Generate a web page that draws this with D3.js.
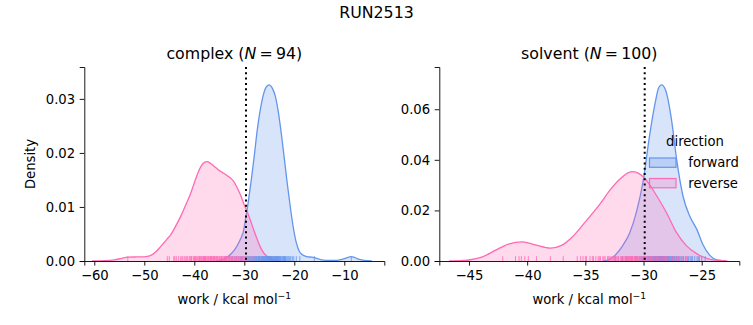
<!DOCTYPE html>
<html><head><meta charset="utf-8">
<script src="https://cdn.jsdelivr.net/npm/d3@7"></script>
<style>
html,body{margin:0;padding:0;background:#fff;}
text{font-family:"DejaVu Sans",sans-serif;fill:#000;}
</style></head>
<body><svg id="chart" width="753" height="325"></svg>
<script>
// ---------------- data ----------------
const suptitle = "RUN2513";
const directions = ["forward", "reverse"];
const colors = ["#6495ED", "#FF69B4"];

// complex phase KDE curves: x (work) and density
const complexForwardX = [-35.5,-34.2,-33.0,-32.0,-31.5,-31.0,-30.5,-30.2,-29.8,-29.2,-28.6,-28.0,-27.4,-26.8,-26.2,-25.6,-25.0,-24.4,-23.8,-23.2,-22.6,-22.0,-21.4,-20.8,-20.2,-19.6,-19.0,-18.3,-17.5,-16.5,-15.5,-14.5,-13.0,-11.5,-10.5,-9.5,-8.6,-7.8,-7.0,-6.0,-4.5];
const complexForwardY = [0,0.0003,0.0010,0.0020,0.0027,0.0036,0.0046,0.0054,0.0075,0.0110,0.0150,0.0195,0.0243,0.0280,0.0307,0.0322,0.0326,0.0320,0.0305,0.0276,0.0236,0.0190,0.0143,0.0100,0.0062,0.0034,0.0018,0.0011,0.0008,0.0007,0.0005,0.0002,0.0001,0.0001,0.0003,0.0006,0.0008,0.0006,0.0003,0.0001,0];
const complexReverseX = [-60.5,-58.0,-56.0,-54.5,-53.3,-51.5,-50.0,-48.8,-47.8,-46.7,-45.5,-44.7,-43.7,-42.7,-41.7,-40.7,-39.8,-39.1,-38.3,-37.5,-36.8,-36.0,-35.2,-34.4,-33.6,-32.7,-32.1,-31.4,-30.7,-30.1,-29.5,-28.8,-28.2,-27.5,-26.9,-26.2,-25.2,-24.2,-23.0];
const complexReverseY = [0,0.00005,0.0002,0.0005,0.0007,0.00075,0.00078,0.0010,0.0016,0.0027,0.0040,0.0049,0.0065,0.0083,0.0104,0.0126,0.0150,0.0167,0.0180,0.0184,0.0181,0.0175,0.0169,0.0164,0.0159,0.0153,0.0147,0.0135,0.0121,0.0106,0.0093,0.0076,0.0060,0.0042,0.0028,0.0016,0.0007,0.0002,0];

// solvent phase KDE curves
const solventForwardX = [-33.5,-32.9,-32.4,-31.8,-31.2,-30.6,-30.0,-29.5,-29.0,-28.7,-28.45,-28.1,-27.6,-27.15,-26.6,-26.0,-25.4,-24.9,-24.3,-23.7,-23.0];
const solventForwardY = [0,0.0007,0.0025,0.0060,0.0110,0.0195,0.0325,0.0490,0.0625,0.0685,0.0696,0.0675,0.0560,0.0400,0.0255,0.0175,0.0123,0.0065,0.0022,0.0004,0];
const solventReverseX = [-46.7,-45.5,-45.0,-43.9,-42.7,-41.6,-40.4,-39.3,-38.0,-37.0,-36.1,-35.0,-33.8,-32.8,-32.0,-31.0,-30.0,-28.9,-28.0,-27.2,-26.3,-25.4,-24.5,-23.5,-22.8];
const solventReverseY = [0,0.0002,0.0004,0.0015,0.0043,0.0067,0.0076,0.0064,0.0051,0.0063,0.0096,0.0155,0.0222,0.0285,0.0325,0.0353,0.0332,0.0260,0.0189,0.0115,0.0060,0.0028,0.0009,0.0002,0];

// rug samples (work values)
const complexForwardRug = [-33.8,-33.0,-32.4,-31.9,-31.5,-31.1,-30.8,-30.4,-30.1,-29.8,-29.5,-29.3,-29.0,-28.8,-28.6,-28.4,-28.2,-28.0,-27.8,-27.7,-27.5,-27.3,-27.2,-27.0,-26.9,-26.7,-26.6,-26.4,-26.3,-26.1,-26.0,-25.9,-25.7,-25.6,-25.5,-25.4,-25.2,-25.1,-25.0,-24.9,-24.8,-24.6,-24.5,-24.4,-24.3,-24.1,-24.0,-23.9,-23.8,-23.6,-23.5,-23.4,-23.2,-23.1,-23.0,-22.8,-22.7,-22.5,-22.4,-22.2,-22.0,-21.9,-21.7,-21.5,-21.3,-21.1,-20.9,-20.7,-20.4,-20.1,-19.6,-18.9,-16.0,-8.6,-26.5,-25.3,-24.7,-23.7,-22.9,-27.1,-28.1,-25.8,-24.2,-23.3,-22.1,-26.2,-24.95,-25.15,-27.6,-21.8,-29.1,-30.6,-23.55,-24.55];
const complexReverseRug = [-53.3,-45.4,-45.0,-44.1,-43.6,-43.2,-42.8,-42.5,-42.0,-41.7,-41.3,-41.0,-40.8,-40.5,-40.2,-40.0,-39.8,-39.6,-39.4,-39.2,-39.0,-38.8,-38.6,-38.5,-38.3,-38.1,-38.0,-37.8,-37.7,-37.5,-37.4,-37.2,-37.1,-36.9,-36.8,-36.6,-36.5,-36.3,-36.2,-36.0,-35.9,-35.7,-35.5,-35.4,-35.2,-35.0,-34.9,-34.7,-34.5,-34.4,-34.2,-34.0,-33.9,-33.7,-33.5,-33.4,-33.2,-33.0,-32.9,-32.7,-32.5,-32.3,-32.1,-31.9,-31.7,-31.5,-31.3,-31.1,-30.9,-30.7,-30.5,-30.3,-30.0,-29.7,-29.4,-29.0,-28.6,-28.2,-27.8,-39.9,-38.9,-37.9,-36.7,-35.6,-34.6,-33.6,-32.6,-31.6,-40.6,-41.5,-42.3,-43.9,-38.2,-36.1];
const solventForwardRug = [-32.4,-31.8,-31.4,-31.0,-30.7,-30.5,-30.3,-30.1,-29.9,-29.8,-29.7,-29.6,-29.5,-29.4,-29.3,-29.25,-29.2,-29.15,-29.1,-29.05,-29.0,-28.95,-28.9,-28.85,-28.8,-28.75,-28.7,-28.65,-28.6,-28.55,-28.5,-28.45,-28.4,-28.35,-28.3,-28.25,-28.2,-28.15,-28.1,-28.05,-28.0,-27.95,-27.9,-27.85,-27.8,-27.75,-27.7,-27.6,-27.5,-27.4,-27.3,-27.2,-27.1,-27.0,-26.9,-26.8,-26.7,-26.6,-26.4,-26.2,-26.0,-25.8,-25.6,-25.4,-25.2,-25.0,-24.7,-28.42,-28.52,-28.62,-28.32,-28.72,-28.82,-28.22,-28.12,-29.02,-28.92,-27.62,-27.52,-29.35,-29.45,-29.55,-27.15,-27.35,-26.55,-26.15,-25.9,-25.3,-30.0,-30.2,-28.48,-28.38,-28.58,-28.28,-28.68,-28.78,-29.12,-27.82];
const solventReverseRug = [-42.1,-41.0,-40.7,-40.5,-40.2,-39.9,-39.2,-38.0,-36.9,-35.7,-35.4,-35.2,-34.9,-34.6,-34.4,-34.1,-33.9,-33.7,-33.5,-33.3,-33.1,-32.9,-32.8,-32.6,-32.5,-32.3,-32.2,-32.0,-31.9,-31.8,-31.7,-31.6,-31.5,-31.4,-31.3,-31.2,-31.1,-31.0,-30.9,-30.8,-30.7,-30.6,-30.5,-30.4,-30.3,-30.2,-30.1,-30.0,-29.9,-29.8,-29.7,-29.6,-29.5,-29.4,-29.3,-29.2,-29.0,-28.9,-28.8,-28.6,-28.5,-28.3,-28.2,-28.0,-27.8,-27.6,-27.4,-27.2,-27.0,-26.7,-26.3,-31.05,-31.25,-31.45,-30.95,-30.75,-30.55,-32.15,-32.45,-32.7,-33.0,-33.4,-29.85,-29.65,-29.45,-29.1,-28.7,-28.4,-31.85,-31.55,-30.35,-30.15,-34.3,-33.8,-35.0,-28.1,-27.5,-30.65,-31.15,-29.95];

// reference (dotted) lines
const complexRefLine = -29.66;
const solventRefLine = -29.9;

// axes ranges and ticks
const complexXDomain = [-62, -2];
const complexYDomain = [0, 0.0359];
const complexXTicks = [-60,-50,-40,-30,-20,-10];
const complexYTicks = [0,0.01,0.02,0.03];
const solventXDomain = [-47.55, -21.77];
const solventYDomain = [0, 0.0767];
const solventXTicks = [-45,-40,-35,-30,-25];
const solventYTicks = [0,0.02,0.04,0.06];

const panels = [
  {name:"complex", n:94, left:84.3, xDomain:complexXDomain, yDomain:complexYDomain, xTicks:complexXTicks, yTicks:complexYTicks,
   curves:[[complexForwardX,complexForwardY],[complexReverseX,complexReverseY]], rugs:[complexForwardRug,complexReverseRug], ref:complexRefLine, ylabel:true, legend:false},
  {name:"solvent", n:100, left:439.3, xDomain:solventXDomain, yDomain:solventYDomain, xTicks:solventXTicks, yTicks:solventYTicks,
   curves:[[solventForwardX,solventForwardY],[solventReverseX,solventReverseY]], rugs:[solventForwardRug,solventReverseRug], ref:solventRefLine, ylabel:false, legend:true}
];

// ---------------- drawing ----------------
const svg = d3.select("#chart");
const axTop = 67, axBottom = 261, pw = 300;
const fsSmall = 13.2, fsLarge = 15.8, tickLen = 4.6, tickPad = 4.6;
const minus = s => s.replace(/-/g, "\u2212");

svg.append("text").attr("x", 376.5).attr("y", 18).attr("text-anchor","middle")
  .style("font-size", fsLarge+"px").text(suptitle);

panels.forEach(p => {
  const g = svg.append("g");
  const x = d3.scaleLinear().domain(p.xDomain).range([p.left, p.left+pw]);
  const y = d3.scaleLinear().domain(p.yDomain).range([axBottom, axTop]);

  // curves
  p.curves.forEach((c, i) => {
    const pts = c[0].map((v, k) => [v, c[1][k]]);
    const area = d3.area().x(d => x(d[0])).y0(y(0)).y1(d => y(d[1])).curve(d3.curveMonotoneX);
    const line = d3.line().x(d => x(d[0])).y(d => y(d[1])).curve(d3.curveMonotoneX);
    g.append("path").attr("d", area(pts)).attr("fill", colors[i]).attr("fill-opacity", 0.25).attr("stroke","none");
    g.append("path").attr("d", line(pts)).attr("fill","none").attr("stroke", colors[i]).attr("stroke-width", 1.3);
  });

  // rugs
  const rugH = 0.025*(axBottom-axTop);
  p.rugs.forEach((r, i) => {
    g.append("g").selectAll("line").data(r).join("line")
      .attr("x1", d => x(d)).attr("x2", d => x(d))
      .attr("y1", axBottom).attr("y2", axBottom - rugH)
      .attr("stroke", colors[i]).attr("stroke-width", 1).attr("stroke-opacity", 0.8);
  });

  // dotted reference line
  g.append("line").attr("x1", x(p.ref)).attr("x2", x(p.ref)).attr("y1", axTop).attr("y2", axBottom)
    .attr("stroke","#000").attr("stroke-width", 2).attr("stroke-dasharray","2,3.3");

  // axes
  const xa = g.append("g").attr("transform", `translate(0,${axBottom})`)
    .call(d3.axisBottom(x).tickValues(p.xTicks).tickSizeOuter(0).tickSize(tickLen).tickPadding(tickPad).tickFormat(d => minus(d3.format("d")(d))));
  const ya = g.append("g").attr("transform", `translate(${p.left},0)`)
    .call(d3.axisLeft(y).tickValues(p.yTicks).tickSizeOuter(0).tickSize(tickLen).tickPadding(tickPad).tickFormat(d3.format(".2f")));
  [xa, ya].forEach(a => {
    a.select(".domain").attr("stroke","#000").attr("stroke-width",0.9);
    a.selectAll(".tick line").attr("stroke","#000").attr("stroke-width",0.9);
    a.selectAll(".tick text").style("font-size", fsSmall+"px").style("font-family","DejaVu Sans").attr("fill","#000");
  });

  // title
  const t = svg.append("text").attr("x", p.left+pw/2).attr("y", 59).attr("text-anchor","middle").style("font-size", fsLarge+"px");
  t.append("tspan").text(p.name + " (");
  t.append("tspan").style("font-style","italic").text("N");
  t.append("tspan").text("\u2009=\u2009" + p.n + ")");

  // x label
  const xl = svg.append("text").attr("x", p.left+pw/2).attr("y", 304).attr("text-anchor","middle").style("font-size", fsSmall+"px");
  xl.append("tspan").text("work / kcal mol");
  xl.append("tspan").attr("dy", -5).style("font-size", (fsSmall*0.7)+"px").text("\u22121");

  if (p.ylabel) {
    svg.append("text").attr("transform", `translate(35,${(axTop+axBottom)/2}) rotate(-90)`).attr("text-anchor","middle")
      .style("font-size", fsSmall+"px").text("Density");
  }

  if (p.legend) {
    const lg = svg.append("g");
    lg.append("text").attr("x", 695).attr("y", 146).attr("text-anchor","middle").style("font-size", fsSmall+"px").text("direction");
    directions.forEach((d, i) => {
      const yy = 158 + i*20.5;
      lg.append("rect").attr("x", 649.5).attr("y", yy).attr("width", 26.5).attr("height", 9.3)
        .attr("fill", colors[i]).attr("fill-opacity", 0.25).attr("stroke", colors[i]).attr("stroke-width", 1.2);
      lg.append("text").attr("x", 688.3).attr("y", yy + 9).style("font-size", fsSmall+"px").text(d);
    });
  }
});
</script>
</body></html>
